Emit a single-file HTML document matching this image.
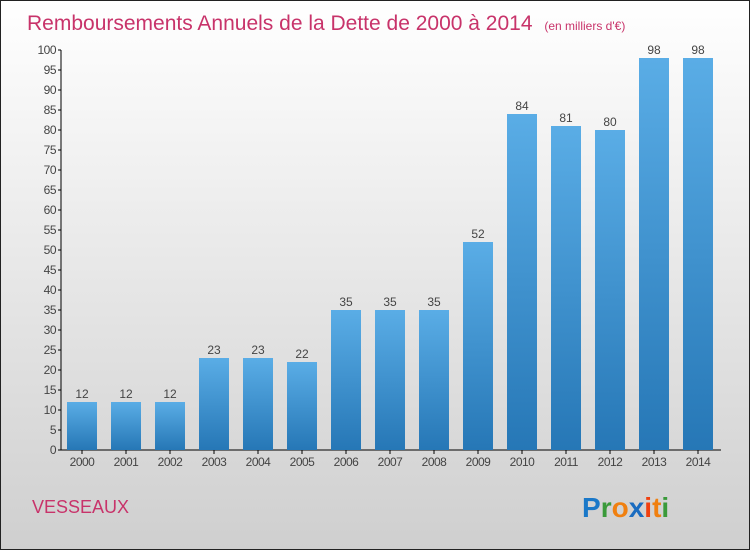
<!DOCTYPE html>
<html><head><meta charset="utf-8"><style>
body{margin:0}
#c{width:750px;height:550px;position:relative;font-family:"Liberation Sans",sans-serif}
</style></head><body>
<div id="c">
<svg width="750" height="550">
<defs>
<linearGradient id="bg" x1="0" y1="0" x2="0" y2="1"><stop offset="0" stop-color="#ffffff"/><stop offset="1" stop-color="#cfcfcf"/></linearGradient>
<linearGradient id="bar" x1="0" y1="0" x2="0" y2="1"><stop offset="0" stop-color="#5aade6"/><stop offset="1" stop-color="#2677b6"/></linearGradient>
</defs>
<rect x="0.5" y="0.5" width="749" height="549" fill="url(#bg)" stroke="#222"/>
<text x="27" y="30" font-size="21" fill="#c8336a">Remboursements Annuels de la Dette de 2000 à 2014 <tspan font-size="12" dx="6">(en milliers d'€)</tspan></text>
<g id="axes"></g><g id="bars"></g>
<text x="32" y="513" font-size="18" fill="#c8336a">VESSEAUX</text>
<g font-size="28" font-weight="bold" font-family="Liberation Sans,sans-serif">
<text x="582" y="517"><tspan fill="#1a78c8">P</tspan><tspan fill="#3a9a3a">r</tspan><tspan fill="#f08010">o</tspan><tspan fill="#1a6cc0">x</tspan><tspan fill="#f04010">i</tspan><tspan fill="#f08010">t</tspan><tspan fill="#3a9a3a">i</tspan></text>
</g>
</svg>
</div>
<script>
const years=["2000","2001","2002","2003","2004","2005","2006","2007","2008","2009","2010","2011","2012","2013","2014"];
const values=[12,12,12,23,23,22,35,35,35,52,84,81,80,98,98];
const yTicks=[0,5,10,15,20,25,30,35,40,45,50,55,60,65,70,75,80,85,90,95,100];
const NS="http://www.w3.org/2000/svg";
const y=v=>450-v*4, x=i=>82+i*44;
const ax=document.getElementById('axes'), bg=document.getElementById('bars');
function mk(t,a,p){const e=document.createElementNS(NS,t);for(const k in a)e.setAttribute(k,a[k]);p.appendChild(e);return e;}
let l=mk('line',{x1:61,y1:50,x2:61,y2:450,stroke:'#000'},ax);


l=mk('line',{x1:61,y1:450,x2:721,y2:450,stroke:'#000'},ax);


yTicks.forEach(t=>{
 const tk=mk('line',{x1:58,y1:y(t),x2:61,y2:y(t),stroke:'#000'},ax);
 
 
 const tx=mk('text',{x:56,y:y(t)+4,'font-size':12,fill:'#444','text-anchor':'end','letter-spacing':'-0.5'},ax);
 tx.textContent=t;
 
 
});
years.forEach((yr,i)=>{
 const r=mk('rect',{x:x(i)-15,y:y(values[i]),width:30,height:values[i]*4,fill:'url(#bar)'},bg);
 
 
 const v=mk('text',{x:x(i),y:y(values[i])-4,'font-size':12,fill:'#444','text-anchor':'middle'},bg);
 v.textContent=values[i];
 
 
 const tk=mk('line',{x1:x(i),y1:450,x2:x(i),y2:454,stroke:'#000'},ax);
 
 
 const t=mk('text',{x:x(i),y:466,'font-size':12,fill:'#444','text-anchor':'middle','letter-spacing':'-0.5'},ax);
 t.textContent=yr;
 
 
});
</script>
</body></html>
